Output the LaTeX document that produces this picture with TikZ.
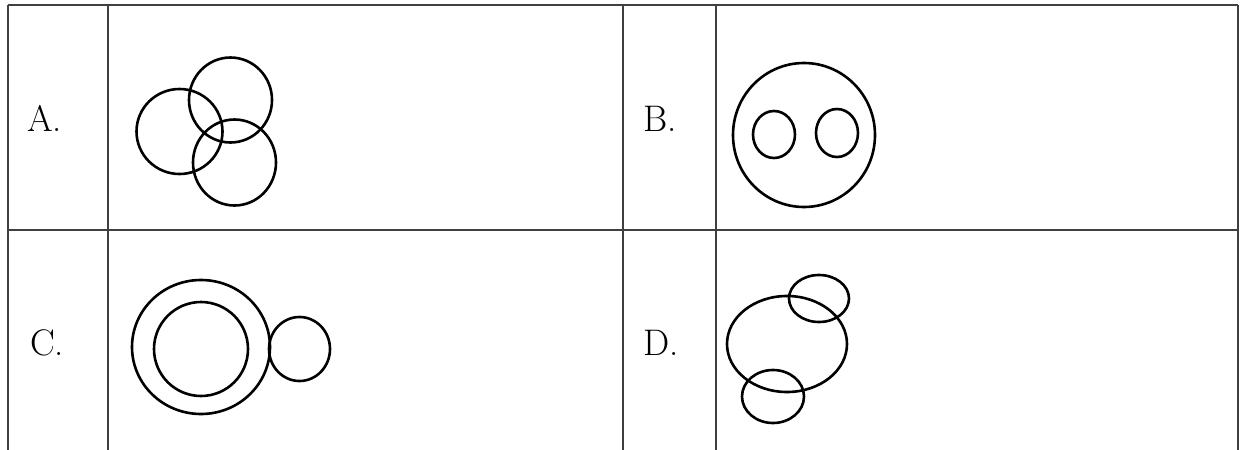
\documentclass[tikz,border=0pt]{standalone}
\begin{document}
\begin{tikzpicture}[x=1pt,y=-1pt,
  gridline/.style={line width=2.2pt,draw=black!75},
  ring/.style={line width=2.6pt,draw=black},
  lbl/.style={anchor=base west,inner sep=0pt,font=\fontsize{37}{40}\selectfont}]
\useasboundingbox (0,0) rectangle (1243,450);
% table
\draw[gridline] (8,5) -- (1238,5);
\draw[gridline] (8,230) -- (1238,230);
\foreach \xx in {8,108,623,716,1238} \draw[gridline] (\xx,5) -- (\xx,450);
% labels
\node[lbl] (la) at (27,131) {A.};
\node[lbl] (lb) at (643,131) {B.};
\node[lbl] (lc) at (30,355) {C.};
\node[lbl] (ld) at (643,355) {D.};
% A
\draw[ring] (179.5,131.5) ellipse [x radius=43,y radius=42.5];
\draw[ring] (230.5,100) ellipse [x radius=41.5,y radius=42.5];
\draw[ring] (234.5,162.5) ellipse [x radius=41.5,y radius=43];
% B
\draw[ring] (804,135) ellipse [x radius=71,y radius=72];
\draw[ring] (774,134.5) ellipse [x radius=21,y radius=23.5];
\draw[ring] (837,133) ellipse [x radius=21,y radius=24];
% C
\draw[ring] (201,347) ellipse [x radius=69,y radius=67];
\draw[ring] (201,349) ellipse [x radius=47,y radius=47];
\draw[ring] (299.5,349) ellipse [x radius=30.5,y radius=32];
% D
\draw[ring] (787,344) ellipse [x radius=60,y radius=48];
\draw[ring] (819,298.5) ellipse [x radius=30,y radius=23.5];
\draw[ring] (773,396.5) ellipse [x radius=31,y radius=26.5];
\end{tikzpicture}
\end{document}
